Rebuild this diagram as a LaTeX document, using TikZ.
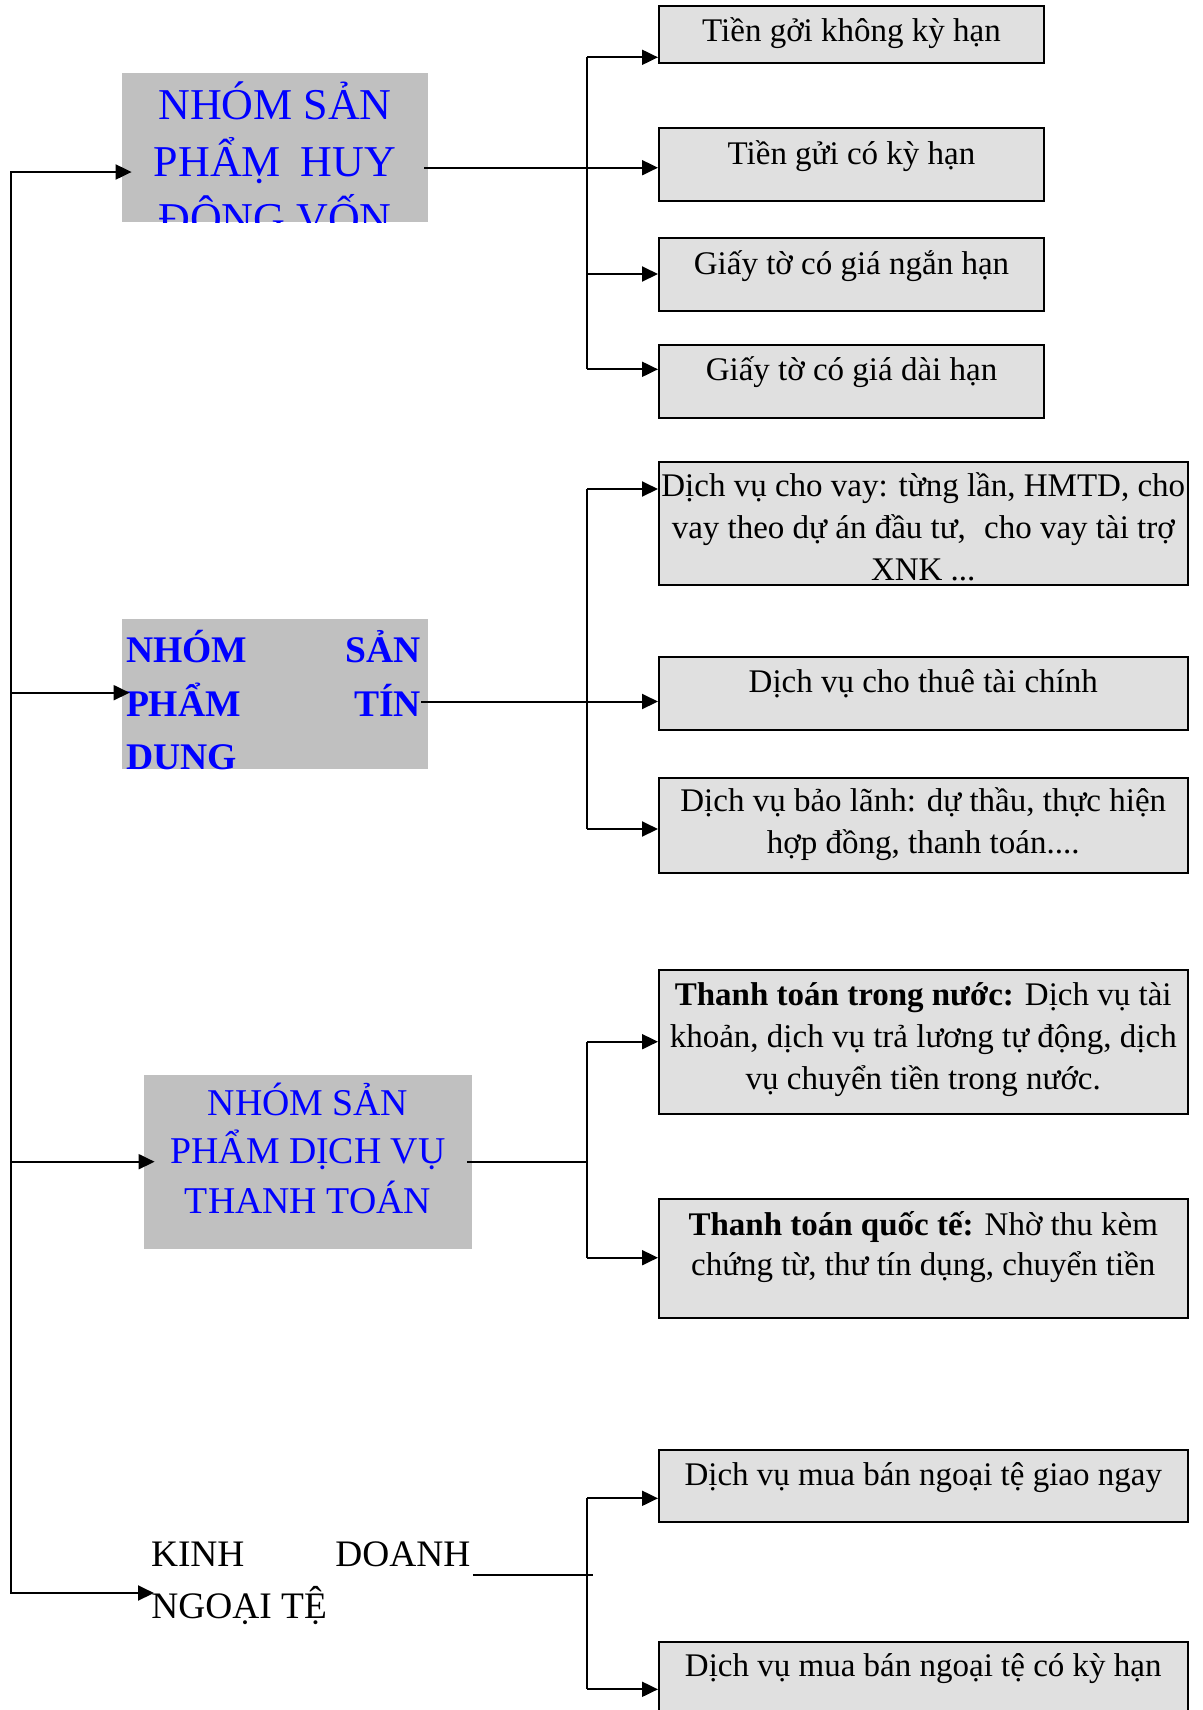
\documentclass[tikz,border=0pt]{standalone}
\usepackage{fontspec}
\setmainfont{Liberation Serif}
\usetikzlibrary{arrows.meta,calc}
\definecolor{hdrgrey}{RGB}{192,192,192}
\definecolor{boxgrey}{RGB}{224,224,224}
\definecolor{hdrblue}{RGB}{0,0,255}
\begin{document}
\begin{tikzpicture}[x=0.5pt,y=-0.5pt,
  conn/.style={line width=1pt, draw=black},
  arr/.style={conn, -{Triangle[length=8pt,width=7.5pt]}},
  dblarr/.style={conn, {Triangle[length=8pt,width=7.5pt]}-{Triangle[length=8pt,width=7.5pt]}},
  hdrbox/.style={rectangle, fill=hdrgrey, draw=none, inner sep=0pt, minimum width=153pt},
  itembox/.style={rectangle, fill=boxgrey, draw=black, line width=1pt, inner sep=0pt},
  narrowbox/.style={itembox, minimum width=192.5pt},
  widebox/.style={itembox, minimum width=264.25pt},
  itemtxt/.style={anchor=base, inner sep=0pt, font=\fontsize{16.5pt}{20pt}\selectfont},
  hdrtxt/.style={anchor=base, inner sep=0pt, text=hdrblue, font=\fontsize{22pt}{26pt}\selectfont},
  hdrbold/.style={anchor=base, inner sep=0pt, text=hdrblue, font=\fontsize{18.8pt}{22pt}\selectfont\bfseries},
  hdrmid/.style={anchor=base, inner sep=0pt, text=hdrblue, font=\fontsize{18.9pt}{22pt}\selectfont},
  kinhtxt/.style={anchor=base, inner sep=0pt, font=\fontsize{18.7pt}{22pt}\selectfont}
]
\useasboundingbox (0,0) rectangle (1203,1710);

% ---------- header boxes ----------
\node[hdrbox, minimum height=74.5pt] (g1) at (275,147.5) {};
\begin{scope}
\clip (g1.south west) rectangle (g1.north east);
\node[hdrtxt] (g1a) at (275,119) {NHÓM SẢN};
\node[hdrtxt] (g1b) at (275,176) {PHẨṂ\hspace{0.45em}HUY};
\node[hdrtxt] (g1c) at (275,233) {ĐỘNG VỐN};
\end{scope}

\node[hdrbox, minimum height=74.85pt] (g2) at (275,693.85) {};
\begin{scope}
\clip (g2.south west) rectangle (g2.north east);
\node[hdrbold] (g2a) at (273.5,662.3) {\makebox[147.5pt]{NHÓM\hfill SẢN}};
\node[hdrbold] (g2b) at (273.5,716) {\makebox[147.5pt]{PHẨM\hfill TÍN}};
\node[hdrbold, anchor=base west] (g2c) at (126,769.3) {DUNG};
\end{scope}

\node[hdrbox, minimum width=164pt, minimum height=87pt] (g3) at (308,1162) {};
\node[hdrmid] (g3a) at (308,1115) {NHÓM SẢN};
\node[hdrmid] (g3b) at (308,1163) {PHẨM DỊCH VỤ};
\node[hdrmid] (g3c) at (308,1213) {THANH TOÁN};

\node[kinhtxt] (k1) at (310.75,1566) {\makebox[159.75pt]{KINH\hfill DOANH}};
\node[kinhtxt, anchor=base west] (k2) at (151,1618.3) {NGOẠI TỆ};

% ---------- item boxes, group 1 ----------
\node[narrowbox, minimum height=28.35pt] (b1) at (851.5,34.3) {};
\node[itemtxt] (b1t) at (851.5,41.7) {Tiền gởi không kỳ hạn};
\node[narrowbox, minimum height=36.35pt] (b2) at (851.5,164.7) {};
\node[itemtxt] (b2t) at (851.5,164) {Tiền gửi có kỳ hạn};
\node[narrowbox, minimum height=36.2pt] (b3) at (851.5,274.5) {};
\node[itemtxt] (b3t) at (851.5,274) {Giấy tờ có giá ngắn hạn};
\node[narrowbox, minimum height=36.35pt] (b4) at (851.5,381.3) {};
\node[itemtxt] (b4t) at (851.5,380) {Giấy tờ có giá dài hạn};

% ---------- group 2 ----------
\node[widebox, minimum height=61.35pt] (c1) at (923.25,523.65) {};
\node[itemtxt] (c1a) at (923.25,496.7) {Dịch vụ cho vay: từng lần, HMTD, cho};
\node[itemtxt] (c1b) at (923.25,538.4) {vay theo dự án đầu tư,\hspace{0.3em} cho vay tài trợ};
\node[itemtxt] (c1c) at (923.25,580) {XNK ...};
\node[widebox, minimum height=36.35pt] (c2) at (923.25,693.65) {};
\node[itemtxt] (c2t) at (923.25,692.3) {Dịch vụ cho thuê tài chính};
\node[widebox, minimum height=47.8pt] (c3) at (923.25,825.5) {};
\node[itemtxt] (c3a) at (923.25,811.7) {Dịch vụ bảo lãnh: dự thầu, thực hiện};
\node[itemtxt] (c3b) at (923.25,853.3) {hợp đồng, thanh toán....};

% ---------- group 3 ----------
\node[widebox, minimum height=72pt] (d1) at (923.25,1042) {};
\node[itemtxt] (d1a) at (923.25,1005) {\textbf{Thanh toán trong nước:} Dịch vụ tài};
\node[itemtxt] (d1b) at (923.25,1047) {khoản, dịch vụ trả lương tự động, dịch};
\node[itemtxt] (d1c) at (923.25,1089) {vụ chuyển tiền trong nước.};
\node[widebox, minimum height=59.65pt] (d2) at (923.25,1258.65) {};
\node[itemtxt] (d2a) at (923.25,1235) {\textbf{Thanh toán quốc tế:} Nhờ thu kèm};
\node[itemtxt] (d2b) at (923.25,1275) {chứng từ, thư tín dụng, chuyển tiền};

% ---------- group 4 ----------
\node[widebox, minimum height=35.85pt] (e1) at (923.25,1485.85) {};
\node[itemtxt] (e1t) at (923.25,1485) {Dịch vụ mua bán ngoại tệ giao ngay};
\node[widebox, minimum height=40.15pt] (e2) at (923.25,1681.85) {};
\node[itemtxt] (e2t) at (923.25,1676.7) {Dịch vụ mua bán ngoại tệ có kỳ hạn};

% ---------- left trunk ----------
\coordinate (Ltop) at (11,172);
\coordinate (Lbot) at (11,1593);
\draw[dblarr] ($(g1.west |- Ltop)+(10,0)$) -- (Ltop) -- (Lbot) -- ($(k2.west |- Lbot)+(3,0)$);
\coordinate (L2) at (11,692.7);
\draw[arr] (L2) -- ($(g2.west |- L2)+(8,0)$);
\coordinate (L3) at (11,1161.7);
\draw[arr] (L3) -- ($(g3.west |- L3)+(11,0)$);

% ---------- bus 1 ----------
\coordinate (yb1) at (587,57.3);
\coordinate (yb2) at (587,167.7);
\coordinate (yb3) at (587,274);
\coordinate (yb4) at (587,369.3);
\draw[conn] (yb1) -- (yb4);
\draw[arr] (yb1) -- (yb1 -| b1.west);
\draw[arr] ($(g1.east |- yb2)+(-4,0)$) -- (yb2 -| b2.west);
\draw[arr] (yb3) -- (yb3 -| b3.west);
\draw[arr] (yb4) -- (yb4 -| b4.west);

% ---------- bus 2 ----------
\coordinate (yc1) at (587,489);
\coordinate (yc2) at (587,701.5);
\coordinate (yc3) at (587,829);
\draw[conn] (yc1) -- (yc3);
\draw[arr] (yc1) -- (yc1 -| c1.west);
\draw[arr] ($(g2.east |- yc2)+(-7,0)$) -- (yc2 -| c2.west);
\draw[arr] (yc3) -- (yc3 -| c3.west);

% ---------- bus 3 ----------
\coordinate (yd1) at (587,1041.7);
\coordinate (yd2) at (587,1257.7);
\draw[conn] (yd1) -- (yd2);
\draw[arr] (yd1) -- (yd1 -| d1.west);
\draw[arr] (yd2) -- (yd2 -| d2.west);
\draw[conn] ($(g3.east)+(-5,0)$) -- (g3.east -| yd1);

% ---------- bus 4 ----------
\coordinate (ye1) at (587,1498.3);
\coordinate (ye2) at (587,1689.3);
\draw[conn] (ye1) -- (ye2);
\draw[arr] (ye1) -- (ye1 -| e1.west);
\draw[arr] (ye2) -- (ye2 -| e2.west);
\coordinate (kend) at (593,1575);
\draw[conn] ($(k1.base east)+(2,9)$) -- (kend);
\end{tikzpicture}
\end{document}
